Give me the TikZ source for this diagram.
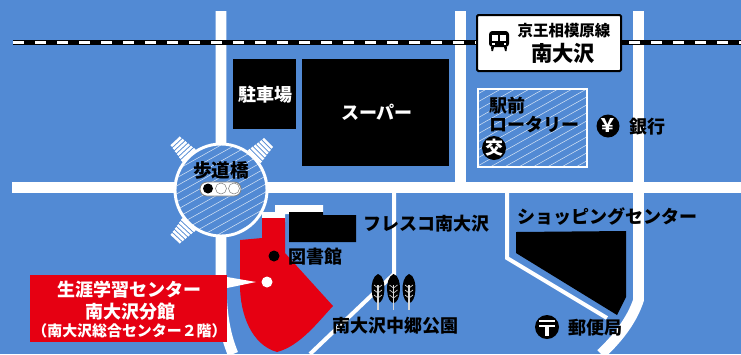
\documentclass[tikz,border=0pt]{standalone}
\usepackage{fontspec}
\setmainfont{Noto Sans CJK JP}
\usetikzlibrary{calc}
\definecolor{mapblue}{HTML}{528AD4}
\definecolor{mapred}{HTML}{E60012}
\tikzset{
  x=.75pt,y=-.75pt,
  road/.style={draw=white,line width=8pt,line cap=butt,line join=miter},
  thinroad/.style={draw=white,line width=3pt,line join=miter},
  bldg/.style={fill=black},
  hatchline/.style={draw=white!75!mapblue,line width=.4pt},
  labelk/.style={inner sep=0pt,text=black,font=\fontsize{13.5pt}{16pt}\selectfont\bfseries},
  labelw/.style={labelk,text=white},
}
\newcommand{\hatchfill}[4]{%
  \foreach \k in {-40,...,40}{
    \draw[hatchline] ({#1-20},{#4+(\k*8)+10}) -- ({#3+20},{#4+(\k*8)+10-(#3-#1+40)*0.56});
  }
}
\begin{document}
\begin{tikzpicture}
\useasboundingbox (0,0) rectangle (741,354);
\fill[mapblue] (0,0) rectangle (741,354);
% roads
\draw[road] (221,11) -- (221,275) .. controls (221,310) and (224,332) .. (233,354);
\draw[road] (12,187.5) -- (741,187.5);
\draw[road] (460.5,11) -- (460.5,187);
\draw[road] (638.5,11) -- (638.5,300) .. controls (632,320) and (618,338) .. (601,354);
\draw[thinroad] (394,190) -- (394,274) -- (310,354);
\draw[thinroad] (507,190) -- (507,258) -- (607,318);
\fill[white] (262,222) -- (262,212) -- (275,212) -- (275,205) -- (323,205) -- (323,214) -- (285,214) -- (285,222) -- cycle;
% rail
\draw[black,line width=4pt] (13,42.5) -- (741,42.5);
\draw[white,line width=2.4pt,dash pattern=on 8.25pt off 8.25pt] (13,42.5) -- (741,42.5);
% crosswalks
\foreach \a in {45,133,227}{
  \begin{scope}[shift={(221,190)},rotate=\a]
    \foreach \r/\w in {48/9,51.6/8.4,55.2/7.9,58.8/7.4,62.4/6.9,66/6.4}{
      \draw[white,line width=1.9pt] (\r,-\w) -- (\r,\w);
    }
  \end{scope}
}
% footbridge circle
\fill[mapblue] (221,190) circle[radius=46];
\begin{scope}
  \clip (221,190) circle[radius=46];
  \hatchfill{175}{144}{267}{236}
\end{scope}
\draw[white,line width=2.2pt] (221,190) circle[radius=46];
% traffic light
\draw[gray,fill=white,line width=.6pt,rounded corners=5.2pt] (200,182) rectangle (241,196);
\fill[black] (208,188.5) circle[radius=5];
\draw[gray,fill=white,line width=.4pt] (221,188.5) circle[radius=5.5];
\draw[gray,fill=white,line width=.4pt] (234,188.5) circle[radius=5.5];
% buildings
\fill[bldg] (233,59) rectangle (296,129);
\fill[bldg] (302,59) rectangle (449,166);
\fill[bldg] (289,212) -- (323,212) -- (323,215) -- (356,215) -- (356,242) -- (289,242) -- cycle;
\fill[bldg] (516,232) -- (626,231) -- (626,297) -- (617,315) -- (516,253) -- cycle;
% rotary
\fill[mapblue] (478,89) rectangle (587,167);
\begin{scope}
  \clip (478,89) rectangle (587,167);
  \hatchfill{478}{89}{587}{167}
\end{scope}
\draw[white,line width=.9pt] (478,89) rectangle (587,167);
% red building
\fill[mapred] (262,218) -- (285,218) -- (285,253) -- (333,306)
  .. controls (318,322) and (300,346) .. (277,352)
  .. controls (252,345) and (240,315) .. (240,285)
  -- (240,240) -- (262,238) -- cycle;
% red label
\fill[mapred] (30,275) rectangle (227,342);
\fill[white] (227,277) -- (256,282) -- (227,288) -- cycle;
\fill[white] (267,282) circle[radius=5.5];
\fill[black] (274,256) circle[radius=5.5];
% station box
\draw[black,fill=white,line width=1.5pt,rounded corners=1pt] (477,15) rectangle (621,71);
% train icon
\fill[black,rounded corners=2.5pt] (489,31) rectangle (509,47);
\fill[white] (492,34.5) rectangle (506,41);
\fill[black] (498,34.5) rectangle (500,41);
\fill[white] (492,43) rectangle (494.5,45);
\fill[white] (503.5,43) rectangle (506,45);
\fill[black] (491,47) -- (494,47) -- (493,51) -- (491.5,51) -- cycle;
\fill[black] (504,47) -- (507,47) -- (506.5,51) -- (505,51) -- cycle;
% icons
\fill[black] (608,126) circle[radius=11.5];
\fill[black] (494,148) circle[radius=12];
\fill[black] (547,327) circle[radius=12];
\draw[white,line width=1.9pt] (539,321) -- (555,321);
\draw[white,line width=1.9pt] (539,326) -- (555,326);
\draw[white,line width=2.4pt] (547,326) -- (547,336);
% trees
\foreach \t in {378,393.5,409}{
  \fill[black] (\t,274) .. controls ({\t+5},275) and ({\t+7},284) .. ({\t+6.3},291)
     .. controls ({\t+6},298) and ({\t+3},303) .. (\t,303)
     .. controls ({\t-3},303) and ({\t-6},298) .. ({\t-6.3},291)
     .. controls ({\t-7},284) and ({\t-5},276) .. (\t,274) -- cycle;
  \draw[white!85!black,line width=1.1pt] (\t,285) -- (\t,310);
  \foreach \y in {288,293,298}{
    \draw[white!85!black,line width=.5pt] ({\t-4},{\y-3}) -- (\t,\y) -- ({\t+4},{\y-3});
  }
}
% labels
\node[labelw] (parking) at (265,95) {駐車場};
\node[labelw] (super) at (377,112) {スーパー};
\node[labelk,font=\fontsize{14pt}{16pt}\selectfont\bfseries] (bridge) at (221,170) {歩道橋};
\node[labelk,font=\fontsize{11.6pt}{14pt}\selectfont\bfseries] (line) at (564,31) {京王相模原線};
\node[labelk,font=\fontsize{16pt}{18pt}\selectfont\bfseries] (station) at (563,53) {南大沢};
\node[labelk,anchor=west] (eki) at (489,106) {駅前};
\node[labelk,anchor=west] (rotary) at (489,125) {ロータリー};
\node[labelw] (koban) at (494,148) {交};
\node[labelw,font=\fontsize{14pt}{16pt}\selectfont\bfseries] (yen) at (608,126) {￥};
\node[labelk,anchor=west] (bank) at (629,127) {銀行};
\node[labelk,anchor=west] (fresco) at (363,224) {フレスコ南大沢};
\node[labelk,anchor=west] (shop) at (517,217) {ショッピングセンター};
\node[labelk,anchor=west] (library) at (288,257) {図書館};
\node[labelk,anchor=west] (park) at (332,326) {南大沢中郷公園};
\node[labelk,anchor=west] (post) at (568,328) {郵便局};
\node[labelw] (c1) at (129,290) {生涯学習センター};
\node[labelw] (c2) at (130,312) {南大沢分館};
\node[labelw,font=\fontsize{11.2pt}{14pt}\selectfont\bfseries] (c3) at (129.5,331) {（南大沢総合センター２階）};
\end{tikzpicture}
\end{document}
